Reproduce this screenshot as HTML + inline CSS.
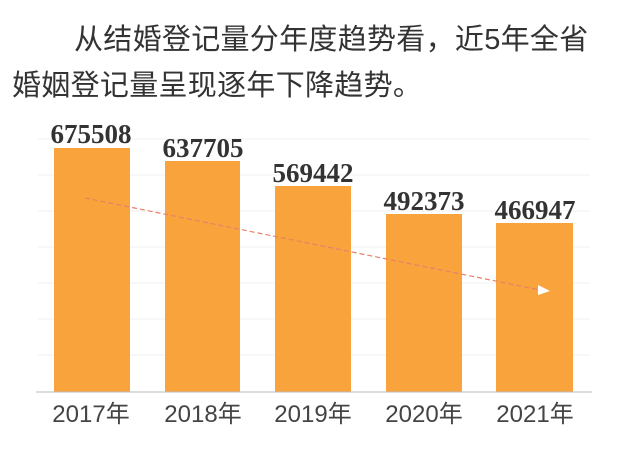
<!DOCTYPE html>
<html><head><meta charset="utf-8"><style>
body{margin:0;width:632px;height:449px;background:#fff;overflow:hidden;font-family:"Liberation Sans","Noto Sans CJK SC",sans-serif;}
.t{position:absolute;font-size:29px;color:#333;white-space:nowrap;letter-spacing:0.3px}
</style></head><body>
<div class="t" style="left:74px;top:16px">从结婚登记量分年度趋势看，近5年全省</div>
<div class="t" style="left:12px;top:62px">婚姻登记量呈现逐年下降趋势。</div>
<svg width="632" height="449" style="position:absolute;left:0;top:0">
<g stroke="#f0f0f0" stroke-width="1">
<line x1="38" x2="590" y1="139" y2="139"/><line x1="38" x2="590" y1="175" y2="175"/><line x1="38" x2="590" y1="211" y2="211"/><line x1="38" x2="590" y1="247" y2="247"/><line x1="38" x2="590" y1="283" y2="283"/><line x1="38" x2="590" y1="319" y2="319"/><line x1="38" x2="590" y1="355" y2="355"/>
</g>
<g fill="#f9a33c">
<rect x="54" y="148" width="76" height="244"/>
<rect x="165" y="161" width="75" height="231"/>
<rect x="275" y="186" width="76" height="206"/>
<rect x="386" y="214" width="76" height="178"/>
<rect x="496" y="223" width="77" height="169"/>
</g>
<line x1="36" x2="592" y1="392" y2="392" stroke="#bbb" stroke-width="1"/>
<line x1="85" y1="198" x2="540" y2="290" stroke="#e8806a" stroke-width="1.2" stroke-dasharray="5,3"/>
<polygon points="538,285 550,291 538,295" fill="#fff"/>
<g font-family="Liberation Serif,serif" font-weight="bold" font-size="27" fill="#333" text-anchor="middle">
<text x="91" y="143">675508</text><text x="203" y="157">637705</text><text x="313" y="182">569442</text><text x="424" y="210">492373</text><text x="535" y="219">466947</text>
</g>
<g font-size="24" fill="#444" text-anchor="middle">
<text x="91" y="422">2017年</text><text x="203" y="422">2018年</text><text x="313" y="422">2019年</text><text x="424" y="422">2020年</text><text x="535" y="422">2021年</text>
</g>
</svg>
</body></html>
